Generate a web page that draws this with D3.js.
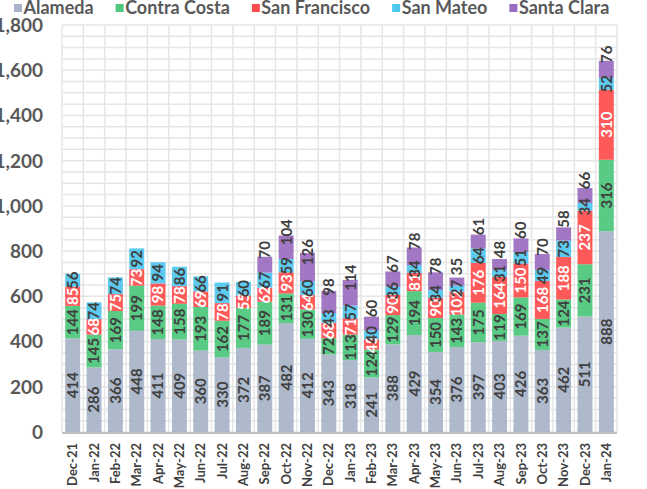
<!DOCTYPE html>
<html>
<head>
<meta charset="utf-8">
<script src="https://cdn.jsdelivr.net/npm/d3@7"></script>
<style>
    body { margin: 0; background: #fff; }
    svg { display: block; font-family: Lato, "Open Sans", sans-serif; font-weight: 700; }
</style>
</head>
<body>
<div id="chart"></div>
<script>
//Datos
const months = ['Dec-21','Jan-22','Feb-22','Mar-22','Apr-22','May-22','Jun-22','Jul-22','Aug-22','Sep-22','Oct-22','Nov-22','Dec-22',
    'Jan-23','Feb-23','Mar-23','Apr-23','May-23','Jun-23','Jul-23','Aug-23','Sep-23','Oct-23','Nov-23','Dec-23','Jan-24'];
const seriesNames = ['Alameda','Contra Costa','San Francisco','San Mateo','Santa Clara'];
const alameda = [414,286,366,448,411,409,360,330,372,387,482,412,343,318,241,388,429,354,376,397,403,426,363,462,511,888];
const contraCosta = [144,145,169,199,148,158,193,162,177,189,131,130,72,113,124,129,194,150,143,175,119,169,137,124,231,316];
const sanFrancisco = [85,68,75,73,98,78,69,78,55,62,93,64,68,71,45,90,81,90,102,176,164,150,168,188,237,310];
const sanMateo = [56,74,74,92,94,86,66,91,60,67,59,60,43,57,40,36,34,34,27,64,31,51,49,73,34,52];
const santaClara = [0,0,0,0,0,0,0,0,0,70,104,126,98,114,60,67,78,78,35,61,48,60,70,58,66,76];
const yTicks = [0,200,400,600,800,1000,1200,1400,1600,1800];

//Colores fijos
const COLORS = ['#A7B3C8','#4CC77B','#FF4C4C','#4FC6EE','#9A6BBE'],
    LABEL_COLORS = ['#404040','#404040','#ffffff','#404040','#404040'],
    GRID = '#E6E6E6', TEXT = '#595959';

let values = [alameda, contraCosta, sanFrancisco, sanMateo, santaClara];
let data = months.map(function(m, i) {
    let row = { month: m };
    seriesNames.forEach(function(s, j) { row[s] = values[j][i]; });
    return row;
});

let margin = {top: 25, right: 30, bottom: 57, left: 62},
    width = 647 - margin.left - margin.right,
    height = 489 - margin.top - margin.bottom;

let root = d3.select('#chart')
    .append('svg')
        .attr('width', 647)
        .attr('height', 489);

let svg = root.append('g')
    .attr('transform', 'translate(' + margin.left + ',' + margin.top + ')');

let x = d3.scaleBand()
    .domain(months)
    .range([0, width])
    .paddingInner(0.3)
    .paddingOuter(0.15);

let y = d3.scaleLinear()
    .domain([0, 1800])
    .range([height, 0]);

//Rejilla
svg.append('g')
    .selectAll('line')
    .data(d3.range(0, 1801, 50))
    .enter()
    .append('line')
    .attr('x1', 0).attr('x2', width)
    .attr('y1', function(d) { return y(d); })
    .attr('y2', function(d) { return y(d); })
    .attr('stroke', GRID)
    .attr('stroke-width', 1.5);

svg.append('g')
    .selectAll('line')
    .data(d3.range(0, months.length + 1))
    .enter()
    .append('line')
    .attr('x1', function(d) { return d * width / months.length; })
    .attr('x2', function(d) { return d * width / months.length; })
    .attr('y1', 0).attr('y2', height)
    .attr('stroke', GRID)
    .attr('stroke-width', 1.5);

//Barras apiladas
let stack = d3.stack().keys(seriesNames)(data);

let layers = svg.append('g')
    .selectAll('g')
    .data(stack)
    .enter()
    .append('g')
    .attr('fill', function(d, i) { return COLORS[i]; })
    .attr('fill-opacity', 0.92);

layers.selectAll('rect')
    .data(function(d) { return d; })
    .enter()
    .append('rect')
    .attr('x', function(d) { return x(d.data.month); })
    .attr('y', function(d) { return y(d[1]); })
    .attr('width', x.bandwidth())
    .attr('height', function(d) { return y(d[0]) - y(d[1]); });

//Etiquetas (Santa Clara algo por encima del centro)
stack.forEach(function(layer, i) {
    let shift = i == 4 ? -15 : 0;
    svg.append('g')
        .selectAll('text')
        .data(layer.filter(function(d) { return d[1] - d[0] > 0; }))
        .enter()
        .append('text')
        .attr('transform', function(d) {
            let cx = x(d.data.month) + x.bandwidth() / 2;
            let cy = (y(d[0]) + y(d[1])) / 2 + shift;
            return 'translate(' + cx + ',' + cy + ') rotate(-90)';
        })
        .attr('text-anchor', 'middle')
        .attr('dy', '0.36em')
        .attr('font-size', 15)
        .attr('fill', LABEL_COLORS[i])
        .text(function(d) { return d[1] - d[0]; });
});

//Eje X
svg.append('line')
    .attr('x1', 0).attr('x2', width)
    .attr('y1', height + 1).attr('y2', height + 1)
    .attr('stroke', '#BFBFBF')
    .attr('stroke-width', 2);

svg.append('g')
    .selectAll('text')
    .data(months)
    .enter()
    .append('text')
    .attr('transform', function(d) {
        return 'translate(' + (x(d) + x.bandwidth() / 2) + ',' + (height + 11) + ') rotate(-90)';
    })
    .attr('text-anchor', 'end')
    .attr('dy', '0.35em')
    .attr('font-size', 13)
    .attr('fill', '#404040')
    .text(function(d) { return d; });

//Eje Y
svg.append('g')
    .selectAll('text')
    .data(yTicks)
    .enter()
    .append('text')
    .attr('x', -19)
    .attr('y', function(d) { return y(d); })
    .attr('dy', '0.36em')
    .attr('text-anchor', 'end')
    .attr('font-size', 19)
    .attr('fill', TEXT)
    .text(function(d) { return d3.format(',')(d); });

//Leyenda
let legend = root.append('g').attr('transform', 'translate(14,0)');
let lx = 0;
seriesNames.forEach(function(s, i) {
    let item = legend.append('g').attr('transform', 'translate(' + lx + ',0)');
    item.append('rect')
        .attr('x', 0).attr('y', 4)
        .attr('width', 8).attr('height', 8)
        .attr('fill', COLORS[i]);
    let t = item.append('text')
        .attr('x', 9.5).attr('y', 13.5)
        .attr('font-size', 18)
        .attr('fill', TEXT)
        .text(s);
    lx += 9.5 + t.node().getComputedTextLength() + 22;
});
</script>
</body>
</html>
